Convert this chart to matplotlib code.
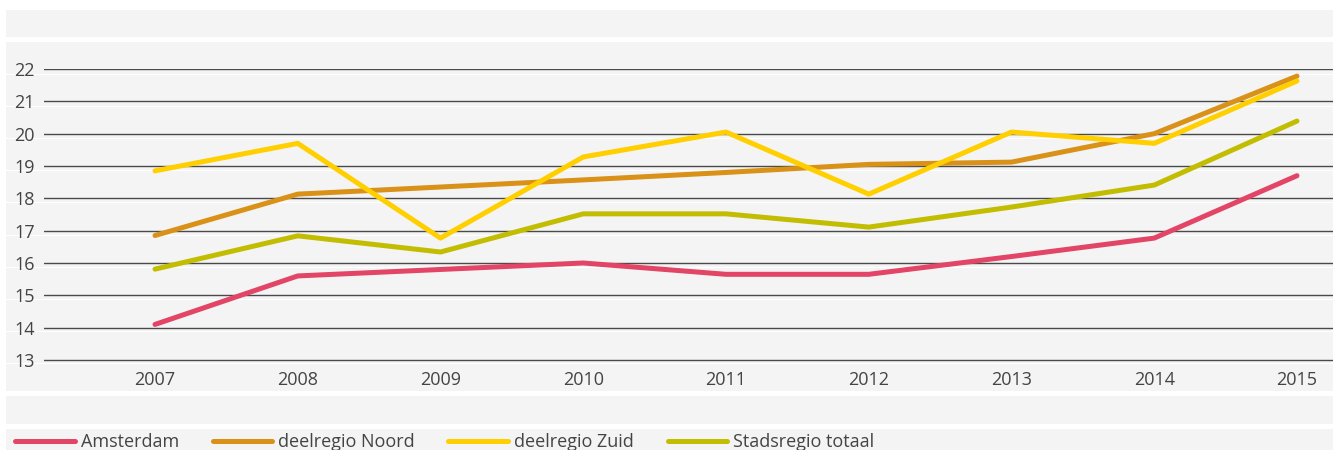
import matplotlib
matplotlib.use("Agg")
import matplotlib.pyplot as plt
from matplotlib.patches import Rectangle

years = ["2007", "2008", "2009", "2010", "2011", "2012", "2013", "2014", "2015"]
amsterdam = [14.1, 15.6, 15.8, 16.0, 15.65, 15.65, 16.2, 16.77, 18.7]
noord = [16.85, 18.13, 18.35, 18.57, 18.8, 19.05, 19.12, 20.0, 21.78]
zuid = [18.85, 19.7, 16.77, 19.28, 20.05, 18.13, 20.05, 19.7, 21.63]
stadsregio = [15.81, 16.84, 16.34, 17.52, 17.52, 17.11, 17.73, 18.41, 20.39]
series_names = ["Amsterdam", "deelregio Noord", "deelregio Zuid", "Stadsregio totaal"]
colors = ["#e24566", "#d99118", "#ffcf00", "#c2bd00"]
yticks = [13, 14, 15, 16, 17, 18, 19, 20, 21, 22]

plt.rcParams['font.family'] = ['Open Sans', 'DejaVu Sans']

W, H = 1333, 450
fig = plt.figure(figsize=(W / 100, H / 100), dpi=100)
fig.patch.set_facecolor("white")

# background gray bands (pixel rows)
bands = [(10, 36.7), (42, 74), (75, 106), (107, 138), (139, 170), (171, 202),
         (203, 235), (236, 267), (268, 299), (300, 331), (332, 363),
         (364, 391), (396, 424), (429, 452)]
for y0, y1 in bands:
    fig.patches.append(Rectangle((6 / W, 1 - y1 / H), 1 - 6 / W, (y1 - y0) / H,
                                 transform=fig.transFigure, facecolor="#f4f4f4",
                                 edgecolor="none", zorder=-5))

pxu = 32.33
ax = fig.add_axes([44 / W, (H - 363) / H, (W - 44) / W, 294 / H])
ax.set_zorder(5)
ax.set_facecolor("none")
x = list(range(len(years)))
for vals, name, c in zip([amsterdam, noord, zuid, stadsregio], series_names, colors):
    ax.plot(x, vals, color=c, lw=3.6, solid_capstyle="round",
            solid_joinstyle="round", label=name, clip_on=False, zorder=3)

ax.set_ylim(13 - 3 / pxu, 22)
ax.set_xlim(-(155 - 44) / 142.75, 8 + (1333 - 1297) / 142.75)
ax.set_yticks(yticks)
ax.set_xticks(x)
ax.set_xticklabels(years)
ax.grid(axis="y", color="#4a4a4a", lw=1.0)
ax.grid(axis="x", visible=False)
ax.set_axisbelow(True)
for s in ax.spines.values():
    s.set_visible(False)
ax.tick_params(length=0, labelsize=13, labelcolor="#444444")
ax.tick_params(axis="y", pad=6.5)
ax.tick_params(axis="x", pad=5.5)

leg = fig.legend(loc="center left", bbox_to_anchor=(15 / W, 1 - 442 / H), ncol=4,
                 frameon=False, fontsize=13, handlelength=3.3, handletextpad=0.35,
                 columnspacing=1.85, borderpad=0, borderaxespad=0)
leg.set_zorder(6)
for t in leg.get_texts():
    t.set_color("#444444")

fig.savefig("out.png", dpi=100)
